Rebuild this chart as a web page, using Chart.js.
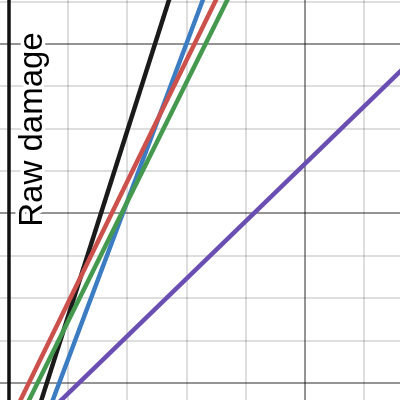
<!DOCTYPE html>
<html>
<head>
<meta charset="utf-8">
<script src="https://cdn.jsdelivr.net/npm/chart.js@4"></script>
<style>
  html, body { margin: 0; padding: 0; background: #fff; }
  #wrap { width: 400px; height: 400px; }
</style>
</head>
<body>
<div id="wrap"><canvas id="dmg" width="400" height="400"></canvas></div>
<script>
  // line end points (x, raw damage)
  const blackX = [0, 3];
  const blackY = [6.0, 71.7];
  const blueX = [0, 3.5];
  const blueY = [4.2, 69.4];
  const redX = [0, 4];
  const redY = [15.2, 72.4];
  const greenX = [0, 4];
  const greenY = [13.2, 69.6];
  const purpleX = [0, 7];
  const purpleY = [12.0, 59.4];

  const xTicks = [0, 1, 2, 3, 4, 5, 6];
  const yTicks = [20, 25, 30, 35, 40, 45, 50, 55, 60, 65];
  const yTitle = 'Raw damage';

  function pts(xs, ys) {
    return xs.map((x, i) => ({ x: x, y: ys[i] }));
  }

  function line(xs, ys, color) {
    return {
      data: pts(xs, ys),
      showLine: true,
      borderColor: color,
      borderWidth: 4.5,
      pointRadius: 0,
      fill: false
    };
  }

  // y axis line and the rotated label with a white halo
  const overlay = {
    id: 'overlay',
    beforeDatasetsDraw(chart) {
      const ctx = chart.ctx;
      const x0 = chart.scales.x.getPixelForValue(0);
      ctx.save();
      ctx.strokeStyle = '#111';
      ctx.lineWidth = 3.5;
      ctx.beginPath();
      ctx.moveTo(x0, 0);
      ctx.lineTo(x0, chart.height);
      ctx.stroke();

      ctx.translate(42, 129.5);
      ctx.rotate(-Math.PI / 2);
      ctx.font = "33px 'Liberation Sans', Arial, sans-serif";
      ctx.textAlign = 'center';
      ctx.textBaseline = 'alphabetic';
      ctx.lineJoin = 'round';
      ctx.strokeStyle = '#fff';
      ctx.lineWidth = 7;
      ctx.strokeText(yTitle, 0, 0);
      ctx.fillStyle = '#000';
      ctx.fillText(yTitle, 0, 0);
      ctx.restore();
    }
  };

  new Chart(document.getElementById('dmg'), {
    type: 'scatter',
    data: {
      datasets: [
        line(purpleX, purpleY, '#6a4eb2'),
        line(greenX, greenY, '#45994f'),
        line(redX, redY, '#cc504b'),
        line(blueX, blueY, '#3b7cc2'),
        line(blackX, blackY, '#1a1a1a')
      ]
    },
    options: {
      responsive: false,
      animation: false,
      layout: { padding: 0, autoPadding: false },
      plugins: { legend: { display: false }, tooltip: { enabled: false } },
      scales: {
        x: {
          type: 'linear',
          min: -0.152,
          max: 6.605,
          afterBuildTicks: s => { s.ticks = xTicks.map(v => ({ value: v })); },
          ticks: { display: false },
          border: { display: false },
          grid: {
            drawTicks: false,
            color: c => c.tick.value === 0 ? 'rgba(0,0,0,0)' : (c.tick.value % 5 === 0 ? 'rgba(0,0,0,0.42)' : 'rgba(0,0,0,0.13)'),
            lineWidth: 2
          }
        },
        y: {
          type: 'linear',
          min: 17.99,
          max: 65.19,
          afterBuildTicks: s => { s.ticks = yTicks.map(v => ({ value: v })); },
          ticks: { display: false },
          border: { display: false },
          grid: {
            drawTicks: false,
            color: c => c.tick.value % 20 === 0 ? 'rgba(0,0,0,0.42)' : 'rgba(0,0,0,0.13)',
            lineWidth: 2
          }
        }
      }
    },
    plugins: [overlay]
  });
</script>
</body>
</html>
